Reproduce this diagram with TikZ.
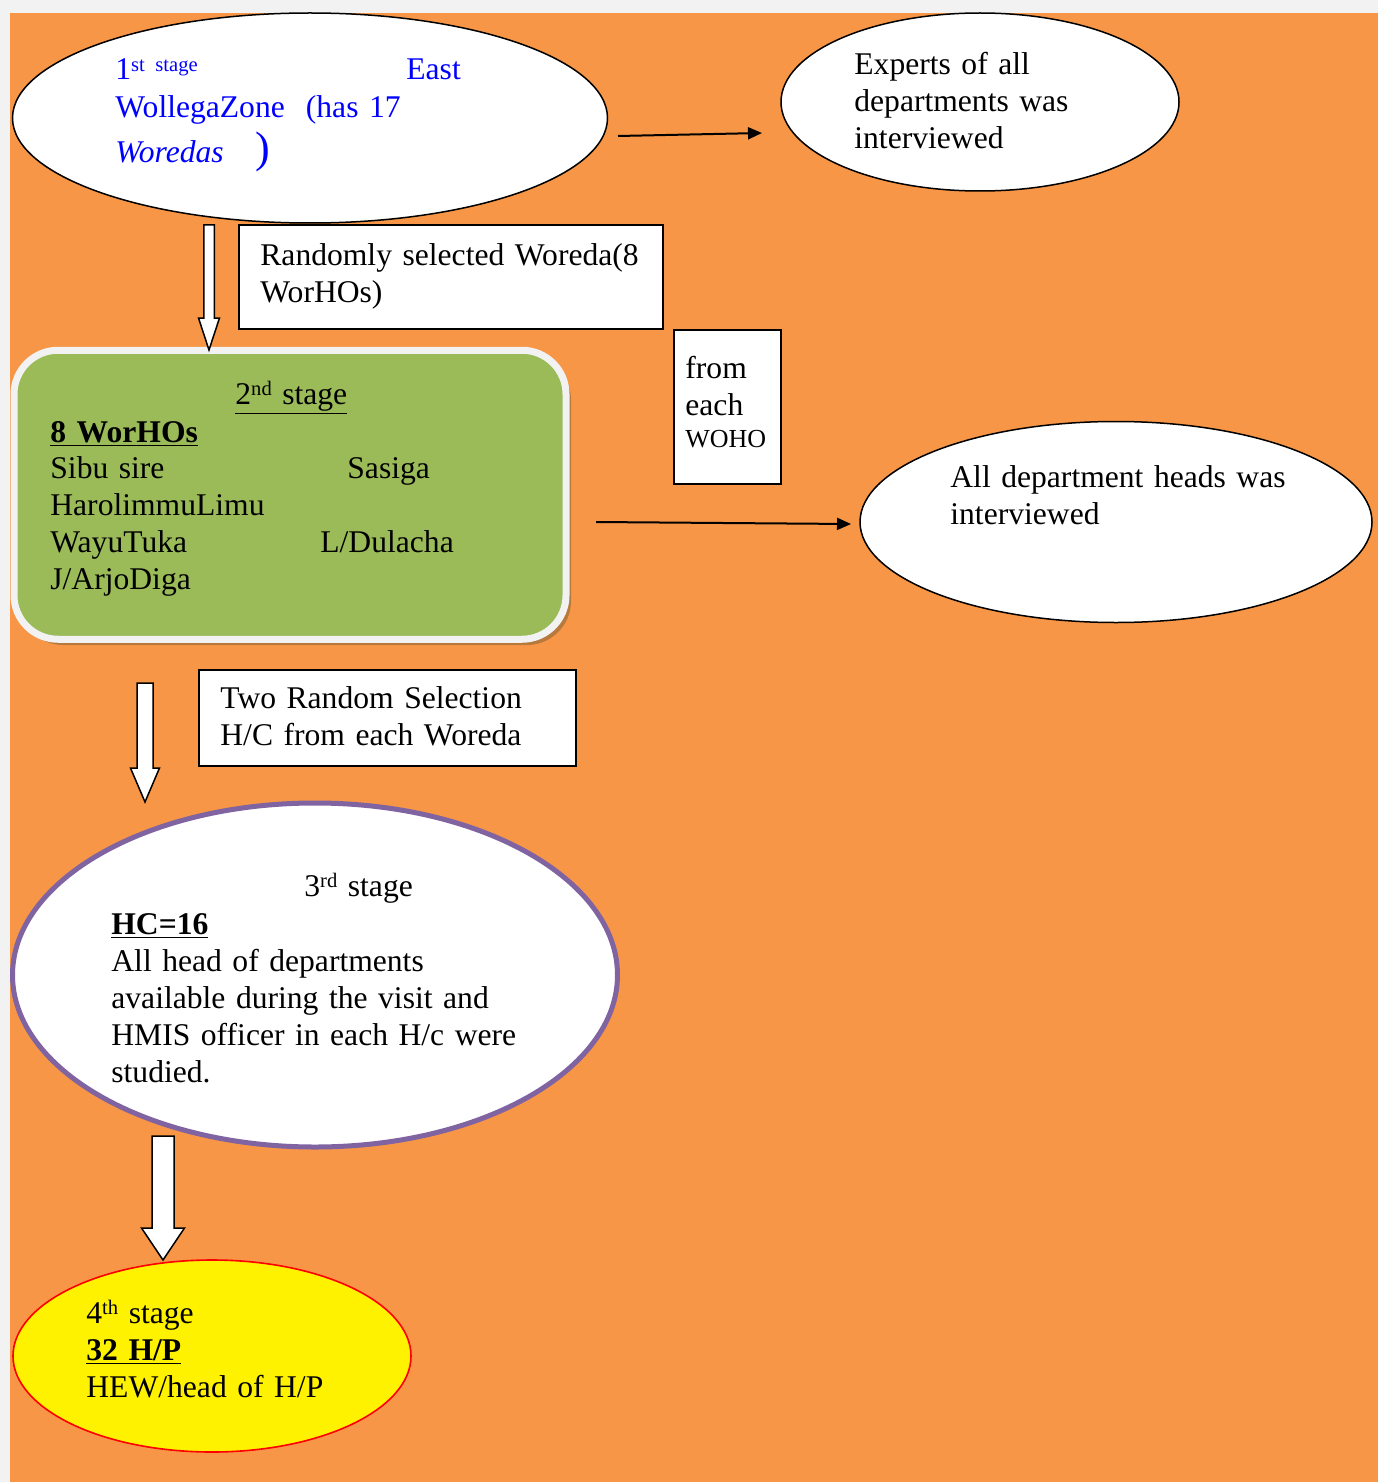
\documentclass[tikz,border=0pt]{standalone}
\usepackage{fontspec}
\setmainfont[WordSpace=0.8]{Liberation Serif}
\usetikzlibrary{shapes.geometric,arrows.meta}

\definecolor{pagegray}{HTML}{F2F2F2}
\definecolor{bgorange}{HTML}{F79646}
\definecolor{stagegreen}{HTML}{9BBB59}
\definecolor{stagepurple}{HTML}{8064A2}
\definecolor{shadowbrown}{HTML}{B8793C}

\newcommand{\sups}[1]{\raisebox{0.6ex}{\fontsize{10.3}{11}\selectfont #1}}
\newcommand{\blockarrow}[6]{%
  \draw[hollow] ({#1-#5},#2) -- ({#1+#5},#2) -- ({#1+#5},#3) -- ({#1+#6},#3)
    -- (#1,#4) -- ({#1-#6},#3) -- ({#1-#5},#3) -- cycle;}

\begin{document}
\begin{tikzpicture}[x=0.5pt,y=-0.5pt]
\tikzset{every node/.style={font=\fontsize{15.8}{18.5}\selectfont, inner sep=0pt},
  stage/.style={ellipse, draw=black, line width=0.75pt, fill=white},
  box/.style={rectangle, draw=black, line width=0.9pt, fill=white},
  txt/.style={anchor=base west, text width=300pt},
  link/.style={line width=1pt, -{Triangle[length=7pt,width=6pt]}},
  hollow/.style={draw=black, fill=white, line width=0.75pt}}

\useasboundingbox (0,0) rectangle (1378,1482);
\fill[pagegray] (0,0) rectangle (1378,1482);
\fill[bgorange] (10,13) rectangle (1378,1482);

% Shapes for the stages
\node[stage, minimum width=297.5pt, minimum height=105pt] (zone) at (310,118) {};
\node[stage, minimum width=199pt, minimum height=89pt] (experts) at (980,102) {};
\node[stage, minimum width=256pt, minimum height=100.5pt] (heads) at (1116,522) {};
\fill[shadowbrown, rounded corners=22pt] (19,356) rectangle (571,645);
\node[draw=pagegray, line width=3.5pt, fill=stagegreen, rounded corners=22pt,
  minimum width=276pt, minimum height=144.5pt] (woreda) at (290,494.75) {};
\node[stage, draw=stagepurple, line width=2.5pt, minimum width=302.5pt,
  minimum height=172pt] (hc) at (315,975) {};
\node[stage, draw=red, fill=yellow, line width=0.8pt, minimum width=199pt,
  minimum height=96pt] (hp) at (212,1356) {};

% Boxes for the selections
\node[box, minimum width=212pt, minimum height=52pt] (randsel) at (451,277) {};
\node[box, minimum width=53.5pt, minimum height=77pt] (fromeach) at (727.5,407) {};
\node[box, minimum width=188.5pt, minimum height=48pt] (tworand) at (387.5,718) {};

% Texts
\node[txt, blue] (zonea) at (115,80) {1\sups{st stage}};
\node[txt, blue] (zoneb) at (406,80) {East};
\node[txt, blue] (zonec) at (115,118) {WollegaZone\ \ (has 17};
\node[txt, blue] (zoned) at (115,163) {\textit{Woredas}\ \ \ {\fontsize{22}{22}\selectfont )}};
\node[txt] (expertstext) at (854,75) {Experts of all\\departments was\\interviewed};
\node[txt] (randtext) at (260,265) {Randomly selected Woreda(8\\WorHOs)};
\node[txt] (fromtext) at (685,378) {from\\each\\[-2.5pt]{\fontsize{13}{16}\selectfont WOHO}};
\node[txt] (stage2) at (235,404) {\underline{2\sups{nd} stage}};
\node[txt] (worhos) at (50,442) {\textbf{\underline{8 WorHOs}}};
\node[txt] (leftcol) at (50,478) {Sibu sire\\HarolimmuLimu\\WayuTuka\\J/ArjoDiga};
\node[txt] (sasiga) at (347,478) {Sasiga};
\node[txt] (dulacha) at (320,552) {L/Dulacha};
\node[txt] (headstext) at (950,487) {All department heads was\\interviewed};
\node[txt] (twotext) at (220,708) {Two Random Selection\\H/C from each Woreda};
\node[txt] (stage3) at (304,896) {3\sups{rd} stage};
\node[txt] (hctext) at (111,934) {\textbf{\underline{HC=16}}\\All head of departments\\available during the visit and\\HMIS officer in each H/c were\\studied.};
\node[txt] (stage4) at (86,1323) {4\sups{th} stage\\\textbf{\underline{32 H/P}}\\HEW/head of H/P};

% Arrows to the interviewed
\coordinate (zoneout) at (618,136);
\coordinate (expertsin) at (762,133);
\coordinate (woredaout) at (596,522);
\coordinate (headsin) at (851,524);
\draw[link] (zoneout) -- (expertsin);
\draw[link] (woredaout) -- (headsin);

% Arrows down the stages
\blockarrow{209}{225}{318}{350}{5.25}{10.5}
\blockarrow{145}{683}{768}{802}{8}{14.5}
\blockarrow{163}{1136}{1228}{1260}{11}{21.5}
\end{tikzpicture}
\end{document}
